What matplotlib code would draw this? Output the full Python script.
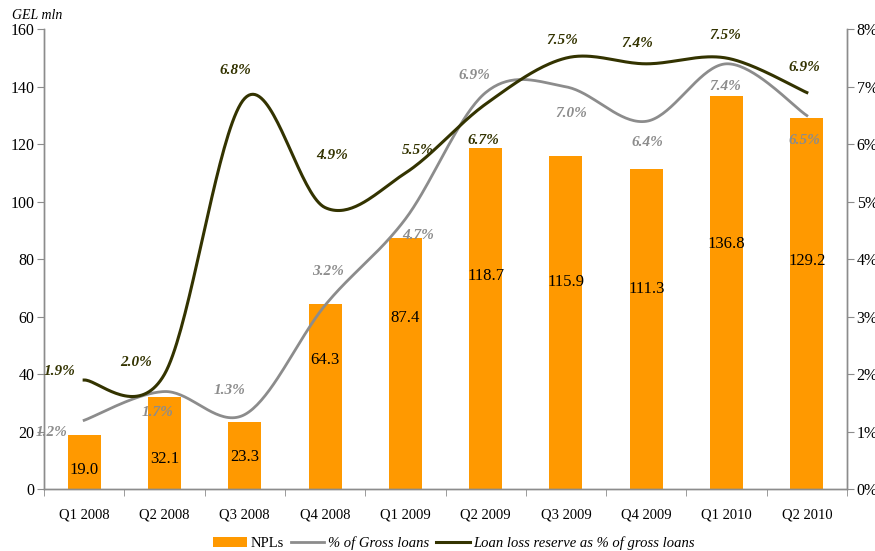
import numpy as np
import matplotlib
matplotlib.use('Agg')
from matplotlib import pyplot as plt
from matplotlib.patches import Patch
from matplotlib.lines import Line2D

# Dados do gráfico
quarters = ['Q1 2008', 'Q2 2008', 'Q3 2008', 'Q4 2008', 'Q1 2009',
            'Q2 2009', 'Q3 2009', 'Q4 2009', 'Q1 2010', 'Q2 2010']
npls = [19.0, 32.1, 23.3, 64.3, 87.4, 118.7, 115.9, 111.3, 136.8, 129.2]
gross_pct = [1.2, 1.7, 1.3, 3.2, 4.7, 6.9, 7.0, 6.4, 7.4, 6.5]
reserve_pct = [1.9, 2.0, 6.8, 4.9, 5.5, 6.7, 7.5, 7.4, 7.5, 6.9]

# Posições dos rótulos (como no original, colocados à mão)
npl_label_y = [6.6, 10.5, 11.2, 45, 59.6, 74.2, 72.1, 69.7, 85.4, 79.5]
gross_label_xy = [(-0.40, 0.98), (0.92, 1.33), (1.81, 1.71), (3.04, 3.78),
                  (4.16, 4.41), (4.86, 7.20), (6.07, 6.53), (7.01, 6.04),
                  (7.99, 7.01), (8.97, 6.07)]
reserve_label_xy = [(-0.31, 2.04), (0.65, 2.21), (1.88, 7.29), (3.09, 5.80),
                    (4.16, 5.90), (4.97, 6.07), (5.95, 7.81), (6.89, 7.76),
                    (7.99, 7.90), (8.97, 7.34)]

ORANGE = '#FF9900'
GRAY = '#8C8C8C'
DARK = '#333300'
AXIS = '#8C8C8C'


def smooth(y, n=40):
    # Suavização tipo Excel (Catmull-Rom via Bezier cúbica)
    y = np.asarray(y, dtype=float)
    x = np.arange(len(y), dtype=float)
    px = np.concatenate([[x[0]], x, [x[-1]]])
    py = np.concatenate([[y[0]], y, [y[-1]]])
    xs, ys = [], []
    t = np.linspace(0, 1, n)
    for i in range(len(y) - 1):
        p0 = np.array([x[i], y[i]])
        p3 = np.array([x[i + 1], y[i + 1]])
        c1 = p0 + (np.array([px[i + 2], py[i + 2]]) - np.array([px[i], py[i]])) / 6
        c2 = p3 - (np.array([px[i + 3], py[i + 3]]) - np.array([px[i + 1], py[i + 1]])) / 6
        b = ((1 - t) ** 3)[:, None] * p0 + (3 * (1 - t) ** 2 * t)[:, None] * c1 \
            + (3 * (1 - t) * t ** 2)[:, None] * c2 + (t ** 3)[:, None] * p3
        xs.extend(b[:, 0])
        ys.extend(b[:, 1])
    return np.array(xs), np.array(ys)


plt.rcParams['font.family'] = ['Liberation Serif', 'DejaVu Serif']

fig = plt.figure(figsize=(8.75, 5.51), dpi=100)
ax = fig.add_axes([0.0503, 0.112, 0.9177, 0.8348])
ax2 = ax.twinx()

x = np.arange(len(quarters))
ax.bar(x, npls, width=0.41, color=ORANGE, zorder=2)
for xi, v, ly in zip(x, npls, npl_label_y):
    ax.text(xi, ly, f'{v:.1f}', ha='center', va='center', fontsize=12, color='black', zorder=5)

ax.set_xlim(-0.5, len(quarters) - 0.5)
ax.set_ylim(0, 160)
ax.set_yticks(range(0, 161, 20))
ax.set_xticks(x)
ax.set_xticklabels(quarters, fontsize=10.5)
ax.set_xticks(np.arange(-0.5, len(quarters), 1), minor=True)
ax.tick_params(axis='x', which='major', length=0, pad=14)
ax.tick_params(axis='x', which='minor', length=5, color=AXIS, direction='out')
ax.tick_params(axis='y', labelsize=11.5, length=5, color=AXIS, direction='out', pad=2)

gx, gy = smooth(gross_pct)
rx, ry = smooth(reserve_pct)
ax2.plot(gx, gy, color=GRAY, lw=2.0, zorder=3)
ax2.plot(rx, ry, color=DARK, lw=2.2, zorder=4)
ax2.set_ylim(0, 8)
ax2.set_yticks(range(0, 9))
ax2.set_yticklabels([f'{v}%' for v in range(0, 9)])
ax2.tick_params(axis='y', labelsize=11.5, length=5, color=AXIS, direction='out', pad=2)

for v, (lx, ly) in zip(gross_pct, gross_label_xy):
    ax2.text(lx, ly, f'{v:.1f}%', ha='center', va='center', fontsize=11,
             fontweight='bold', fontstyle='italic', color=GRAY, zorder=6)
for v, (lx, ly) in zip(reserve_pct, reserve_label_xy):
    ax2.text(lx, ly, f'{v:.1f}%', ha='center', va='center', fontsize=11,
             fontweight='bold', fontstyle='italic', color=DARK, zorder=6)

for a in (ax, ax2):
    a.spines['top'].set_visible(False)
    for s in ('left', 'right', 'bottom'):
        a.spines[s].set_color(AXIS)
        a.spines[s].set_linewidth(1.0)
ax.set_zorder(ax2.get_zorder() - 1)
ax.patch.set_visible(False)

fig.text(0.014, 0.972, 'GEL mln', fontsize=10, fontstyle='italic', va='center')

handles = [Patch(facecolor=ORANGE, edgecolor='none'),
           Line2D([], [], color=GRAY, lw=2.0),
           Line2D([], [], color=DARK, lw=2.2)]
labels = ['NPLs', '% of Gross loans', 'Loan loss reserve as % of gross loans']
leg = fig.legend(handles, labels, loc='center', bbox_to_anchor=(0.519, 0.014), ncol=3,
                 frameon=False, fontsize=10.5, handlelength=2.3, handletextpad=0.25,
                 columnspacing=0.5, handleheight=0.6, borderpad=0)
for t in leg.get_texts()[1:]:
    t.set_fontstyle('italic')

fig.savefig('out.png', dpi=100)
